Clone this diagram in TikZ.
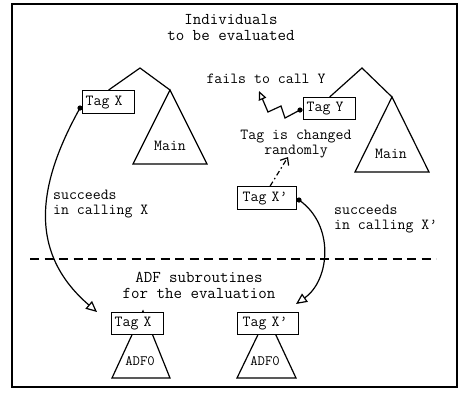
\documentclass[tikz,border=0pt]{standalone}
\usetikzlibrary{arrows.meta}
\begin{document}
\begin{tikzpicture}[x=1pt,y=-1pt,
  small/.style={font=\ttfamily\fontsize{15.4}{15}\selectfont, inner sep=0pt},
  big/.style={font=\ttfamily\fontsize{16.5}{16}\selectfont, inner sep=0pt, align=center},
  tagbox/.style={draw, line width=1.3pt, fill=white, anchor=north west,
    font=\ttfamily\fontsize{15.4}{15}\selectfont, inner ysep=0pt, inner xsep=3pt,
    text width=46pt, align=left},
  ln/.style={line width=1.2pt},
  opentip/.style={ln, -{Triangle[open, length=11pt, width=10pt]}},
  dotc/.style={fill=black},
]
\useasboundingbox (0,0) rectangle (458,392);
\draw[line width=2.5pt] (12,4) rectangle (457,387);

% title
\node[big] (title) at (231,27.5) {Individuals\\to be evaluated};

% left individual
\coordinate (la) at (140,68);
\coordinate (m1t) at (170,90);
\coordinate (m1l) at (133,164);
\coordinate (m1r) at (207,164);
\draw[ln] (m1t) -- (m1l) -- (m1r) -- cycle;
\node[small] (main1) at (170,146) {Main};
\node[tagbox, minimum height=23pt] (tx) at (82,90) {Tag X};
\draw[ln] (tx.north) -- (la) -- (m1t);

% right individual
\coordinate (ra) at (362,68);
\coordinate (m2t) at (392,97);
\coordinate (m2l) at (355,172);
\coordinate (m2r) at (429,172);
\draw[ln] (m2t) -- (m2l) -- (m2r) -- cycle;
\node[small] (main2) at (391,154) {Main};
\node[tagbox, minimum height=22pt, text width=46pt] (ty) at (303,97) {Tag Y};
\draw[ln] (ty.north) -- (ra) -- (m2t);

% fails to call Y
\node[small] (fails) at (266,79) {fails to call Y};
\coordinate (d2) at (300,110);
\coordinate (z1) at (285,118);
\coordinate (z2) at (281,106);
\coordinate (z3) at (268,112);
\coordinate (z4) at (259,91);
\draw[ln, -{Triangle[open, length=9pt, width=8pt]}] (d2) -- (z1) -- (z2) -- (z3) -- (z4);
\fill[dotc] (d2) circle (2.6pt);

% tag changed randomly
\node[small, align=center] (chg) at (296,144.5) {Tag is changed\\randomly};
\node[tagbox, minimum height=23pt, text width=49pt, inner xsep=5pt] (txp) at (237,186) {Tag X’};
\coordinate (chgtip) at (288,157);
\draw[ln, dash pattern=on 5pt off 3pt on 1.5pt off 3pt, -{Straight Barb[length=6pt, width=10pt]}] (txp.north) ++(3,0) coordinate (txpn) -- (chgtip);

% succeeds labels
\node[small, align=left, anchor=west] (succ1) at (53,204.5) {succeeds\\in calling X};
\node[small, align=left, anchor=west] (succ2) at (334,219) {succeeds\\in calling X’};

% dashed separator
\coordinate (dl) at (30,259);
\coordinate (dr) at (436,259);
\draw[ln, dash pattern=on 9pt off 5.5pt] (dl) -- (dr);

% ADF label
\node[big] (adf) at (199,285.5) {ADF subroutines\\for the evaluation};

% bottom ADFs
\coordinate (a1t) at (143,311);
\coordinate (a1l) at (112,378);
\coordinate (a1r) at (170,378);
\draw[ln] (a1t) -- (a1l) -- (a1r) -- cycle;
\node[tagbox, minimum height=21.5pt] (bx) at (111,312) {Tag X};
\node[font=\ttfamily\fontsize{14.3}{14}\selectfont, inner sep=0pt] (adf0a) at (140,361) {ADF0};

\coordinate (a2t) at (267,316);
\coordinate (a2l) at (237,378);
\coordinate (a2r) at (296,378);
\draw[ln] (a2t) -- (a2l) -- (a2r) -- cycle;
\node[tagbox, minimum height=22pt, text width=51pt, inner xsep=5pt] (bxp) at (237,312) {Tag X’};
\node[font=\ttfamily\fontsize{14.3}{14}\selectfont, inner sep=0pt] (adf0b) at (265,361) {ADF0};

% calls
\coordinate (d1) at (80,108);
\coordinate (t1) at (97,312);
\draw[opentip] (d1) .. controls (40,180) and (25,250) .. (t1);
\fill[dotc] (d1) circle (2.6pt);

\coordinate (d3) at (299,200);
\coordinate (t3) at (296,304);
\draw[opentip] (d3) .. controls (335,225) and (330,280) .. (t3);
\fill[dotc] (d3) circle (2.6pt);
\end{tikzpicture}
\end{document}
